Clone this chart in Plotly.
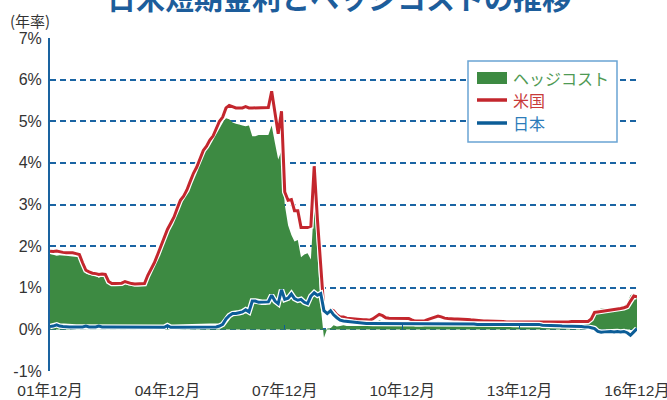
import pandas as pd
import plotly.graph_objects as go

# ---------------- data (monthly, Dec 2001 - Dec 2016) ----------------
dates = pd.date_range("2001-12-01", "2016-12-01", freq="MS")

us_rate = [
    1.88, 1.87, 1.88, 1.86, 1.85, 1.84, 1.84, 1.84, 1.82, 1.80,
    1.60, 1.42, 1.38, 1.35, 1.34, 1.32, 1.33, 1.32, 1.15, 1.10,
    1.10, 1.10, 1.11, 1.15, 1.12, 1.10, 1.09, 1.09, 1.09, 1.10,
    1.30, 1.45, 1.60, 1.80, 2.00, 2.25, 2.40, 2.55, 2.70, 2.90,
    3.10, 3.20, 3.35, 3.55, 3.75, 3.90, 4.10, 4.30, 4.40, 4.55,
    4.65, 4.82, 5.00, 5.10, 5.32, 5.38, 5.35, 5.32, 5.32, 5.32,
    5.35, 5.32, 5.32, 5.32, 5.32, 5.32, 5.32, 5.33, 5.72, 5.15,
    4.70, 5.24, 3.30, 3.10, 3.12, 2.85, 2.85, 2.45, 2.45, 2.45,
    2.48, 3.92, 2.65, 1.40, 0.45, 0.40, 0.48, 0.45, 0.35, 0.30,
    0.30, 0.27, 0.26, 0.25, 0.24, 0.23, 0.23, 0.23, 0.22, 0.25,
    0.30, 0.36, 0.33, 0.28, 0.27, 0.27, 0.27, 0.27, 0.27, 0.27,
    0.26, 0.23, 0.20, 0.20, 0.20, 0.21, 0.24, 0.27, 0.29, 0.32,
    0.30, 0.27, 0.26, 0.25, 0.25, 0.25, 0.25, 0.25, 0.24, 0.23,
    0.22, 0.21, 0.21, 0.20, 0.20, 0.20, 0.19, 0.19, 0.19, 0.19,
    0.18, 0.18, 0.17, 0.17, 0.17, 0.17, 0.17, 0.17, 0.17, 0.17,
    0.17, 0.17, 0.17, 0.17, 0.17, 0.17, 0.17, 0.18, 0.18, 0.18,
    0.19, 0.19, 0.20, 0.20, 0.19, 0.19, 0.25, 0.41, 0.42, 0.43,
    0.44, 0.45, 0.46, 0.47, 0.48, 0.50, 0.52, 0.55, 0.68, 0.80,
    0.78,
]

jp_rate = [
    0.07, 0.08, 0.11, 0.08, 0.07, 0.06, 0.06, 0.06, 0.06, 0.06,
    0.06, 0.08, 0.06, 0.06, 0.06, 0.08, 0.06, 0.06, 0.06, 0.06,
    0.06, 0.06, 0.06, 0.06, 0.06, 0.05, 0.05, 0.05, 0.05, 0.05,
    0.05, 0.05, 0.05, 0.05, 0.05, 0.05, 0.09, 0.05, 0.05, 0.05,
    0.05, 0.05, 0.05, 0.05, 0.05, 0.05, 0.05, 0.05, 0.05, 0.05,
    0.05, 0.06, 0.08, 0.12, 0.25, 0.33, 0.38, 0.38, 0.40, 0.42,
    0.47, 0.42, 0.68, 0.68, 0.65, 0.65, 0.65, 0.66, 0.82, 0.68,
    0.62, 0.95, 0.72, 0.75, 0.85, 0.74, 0.70, 0.72, 0.65, 0.62,
    0.80, 0.88, 0.82, 0.86, 0.45, 0.38, 0.45, 0.35, 0.28, 0.22,
    0.20, 0.19, 0.18, 0.17, 0.16, 0.15, 0.15, 0.14, 0.14, 0.14,
    0.14, 0.14, 0.14, 0.14, 0.14, 0.14, 0.14, 0.14, 0.14, 0.14,
    0.14, 0.13, 0.13, 0.13, 0.13, 0.13, 0.13, 0.13, 0.13, 0.13,
    0.13, 0.13, 0.13, 0.13, 0.13, 0.13, 0.13, 0.13, 0.13, 0.13,
    0.13, 0.12, 0.12, 0.12, 0.12, 0.12, 0.12, 0.12, 0.12, 0.12,
    0.12, 0.12, 0.12, 0.12, 0.12, 0.12, 0.12, 0.12, 0.12, 0.12,
    0.12, 0.10, 0.10, 0.09, 0.09, 0.09, 0.09, 0.08, 0.08, 0.08,
    0.08, 0.07, 0.07, 0.07, 0.06, 0.06, 0.04, 0.02, -0.05, -0.07,
    -0.06, -0.05, -0.05, -0.06, -0.05, -0.06, -0.05, -0.08, -0.14, -0.06,
    0.02,
]

hedge_cost = [
    1.81, 1.79, 1.77, 1.78, 1.78, 1.78, 1.78, 1.78, 1.76, 1.74,
    1.54, 1.34, 1.32, 1.29, 1.28, 1.24, 1.27, 1.26, 1.09, 1.04,
    1.04, 1.04, 1.05, 1.09, 1.06, 1.05, 1.04, 1.04, 1.04, 1.05,
    1.25, 1.40, 1.55, 1.75, 1.95, 2.20, 2.31, 2.50, 2.65, 2.85,
    3.05, 3.15, 3.30, 3.50, 3.70, 3.85, 4.05, 4.25, 4.35, 4.50,
    4.60, 4.76, 4.92, 4.98, 5.07, 5.05, 4.97, 4.94, 4.92, 4.90,
    4.88, 4.90, 4.64, 4.64, 4.67, 4.67, 4.67, 4.67, 4.90, 4.47,
    4.08, 4.29, 3.00, 2.50, 2.27, 2.11, 2.15, 1.73, 1.80, 1.83,
    1.68, 3.04, 1.83, 0.54, -0.20, 0.02, 0.03, 0.10, 0.07, 0.08,
    0.10, 0.08, 0.08, 0.08, 0.08, 0.08, 0.08, 0.09, 0.08, 0.11,
    0.16, 0.22, 0.19, 0.14, 0.13, 0.13, 0.13, 0.13, 0.13, 0.13,
    0.12, 0.10, 0.07, 0.07, 0.07, 0.08, 0.11, 0.14, 0.16, 0.19,
    0.17, 0.14, 0.13, 0.12, 0.12, 0.12, 0.12, 0.12, 0.11, 0.10,
    0.09, 0.09, 0.09, 0.08, 0.08, 0.08, 0.07, 0.07, 0.07, 0.07,
    0.06, 0.06, 0.05, 0.05, 0.05, 0.05, 0.05, 0.05, 0.05, 0.05,
    0.05, 0.07, 0.07, 0.08, 0.08, 0.08, 0.08, 0.10, 0.10, 0.10,
    0.11, 0.12, 0.13, 0.13, 0.13, 0.13, 0.21, 0.39, 0.47, 0.50,
    0.50, 0.50, 0.51, 0.53, 0.53, 0.56, 0.57, 0.63, 0.82, 0.86,
    0.76,
]

tick_dates = ["2001-12-01", "2004-12-01", "2007-12-01", "2010-12-01", "2013-12-01", "2016-12-01"]
tick_labels = ["01年12月", "04年12月", "07年12月", "10年12月", "13年12月", "16年12月"]
y_ticks = [-1, 0, 1, 2, 3, 4, 5, 6, 7]

series_names = ["ヘッジコスト", "米国", "日本"]

# ---------------- styling ----------------
GREEN = "#3d8a42"
RED = "#c3262d"
BLUE = "#0c5d97"
GRID = "#1a64a3"
TEXT = "#333333"
CJK = "Noto Sans CJK JP"
NUM = "Liberation Sans, Noto Sans CJK JP"

# plot area in pixels
L, R, T, B = 50, 637, 38, 371
W, H = 667, 400


def px(x):
    return (x - L) / (R - L)


def py(y):
    return (B - y) / (B - T)


fig = go.Figure()

fig.add_trace(go.Scatter(
    x=dates, y=hedge_cost, mode="none", fill="tozeroy",
    fillcolor=GREEN, name=series_names[0], showlegend=False, hoverinfo="skip"))

for vals, col, nm in [(us_rate, RED, series_names[1]), (jp_rate, BLUE, series_names[2])]:
    fig.add_trace(go.Scatter(
        x=dates, y=vals, mode="lines", line=dict(color="white", width=5.5),
        showlegend=False, hoverinfo="skip"))
    fig.add_trace(go.Scatter(
        x=dates, y=vals, mode="lines", line=dict(color=col, width=3),
        name=nm, showlegend=False))

# helper trace for the secondary x axis (ticks on the 0% line)
fig.add_trace(go.Scatter(x=[dates[0]], y=[None], xaxis="x2", showlegend=False,
                         hoverinfo="skip", mode="lines"))

fig.update_layout(
    width=W, height=H,
    margin=dict(l=L, r=W - R, t=T, b=H - B, autoexpand=False),
    paper_bgcolor="white", plot_bgcolor="white",
    showlegend=False,
    xaxis=dict(
        type="date", range=[tick_dates[0], tick_dates[-1]],
        tickvals=tick_dates, ticktext=tick_labels, automargin=False,
        ticklabeloverflow="allow", ticklabelstandoff=8,
        showgrid=False, zeroline=False, showline=False, ticks="",
        tickfont=dict(family=NUM, size=15.5, color=TEXT),
    ),
    xaxis2=dict(
        type="date", range=[tick_dates[0], tick_dates[-1]], overlaying="x",
        anchor="free", position=(0 - y_ticks[0]) / (y_ticks[-1] - y_ticks[0]),
        side="bottom", tickvals=tick_dates, showticklabels=False, automargin=False,
        ticks="inside", ticklen=4, tickwidth=1, tickcolor=BLUE,
        showgrid=False, zeroline=False, showline=False,
    ),
    yaxis=dict(
        range=[y_ticks[0], y_ticks[-1]], tickvals=y_ticks,
        ticktext=[f"{v}%" for v in y_ticks], automargin=False,
        ticklabeloverflow="allow",
        showgrid=True, gridcolor=GRID, gridwidth=1.5, griddash="6px,4px",
        zeroline=False, showline=True, linecolor="#1a63a0", linewidth=2,
        ticks="", ticklabelstandoff=3,
        tickfont=dict(family=NUM, size=16, color=TEXT),
    ),
)

# title (cropped at the top in the reference)
fig.add_annotation(
    text="<b>日米短期金利とヘッジコストの推移</b>", xref="paper", yref="paper",
    x=px(339), y=py(-3), xanchor="center", yanchor="middle", showarrow=False,
    font=dict(family=CJK, size=29, color="#1d5d9b"))

# unit label
fig.add_annotation(
    text="(年率)", xref="paper", yref="paper", x=px(8), y=py(20),
    xanchor="left", yanchor="middle", showarrow=False,
    font=dict(family=CJK, size=15, color=TEXT))

# legend (drawn manually)
fig.add_shape(type="rect", xref="paper", yref="paper",
              x0=px(468), x1=px(617), y0=py(142), y1=py(61),
              fillcolor="white", line=dict(color="#6aa4d4", width=1.5), layer="above")
fig.add_shape(type="rect", xref="paper", yref="paper",
              x0=px(477), x1=px(507), y0=py(84), y1=py(72),
              fillcolor=GREEN, line=dict(width=0), layer="above")
fig.add_shape(type="line", xref="paper", yref="paper",
              x0=px(477), x1=px(507), y0=py(100), y1=py(100),
              line=dict(color=RED, width=3.5), layer="above")
fig.add_shape(type="line", xref="paper", yref="paper",
              x0=px(477), x1=px(507), y0=py(123), y1=py(123),
              line=dict(color=BLUE, width=3.5), layer="above")
for nm, ypos, col in [(series_names[0], 78, "#4f9a54"),
                      (series_names[1], 100, "#c83a3a"),
                      (series_names[2], 123, "#2d7cba")]:
    fig.add_annotation(text=nm, xref="paper", yref="paper", x=px(511), y=py(ypos),
                       xanchor="left", yanchor="middle", showarrow=False,
                       font=dict(family=CJK, size=16, color=col))

fig.write_html(
    "out.html",
    config={"displayModeBar": False},
    post_script="document.body.style.margin='0';document.body.style.overflow='hidden';",
)
